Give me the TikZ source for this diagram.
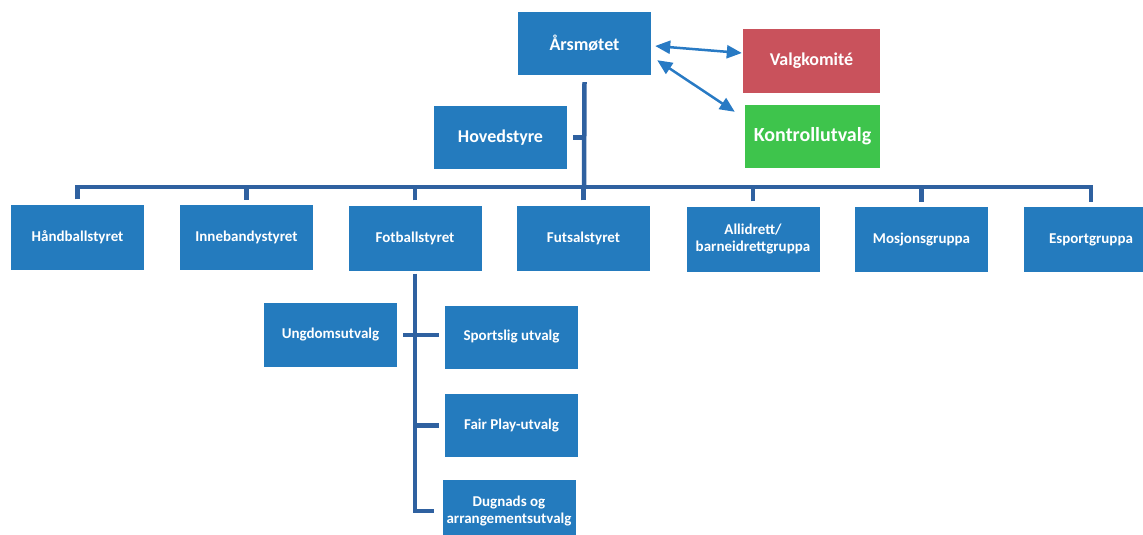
\documentclass[tikz,border=0pt]{standalone}
\usepackage{fontspec}
\setmainfont{Carlito}
\usetikzlibrary{arrows.meta}
\definecolor{boxblue}{RGB}{36,123,190}
\definecolor{barblue}{RGB}{47,97,160}
\definecolor{tipblue}{RGB}{40,122,196}
\definecolor{valgred}{RGB}{201,82,92}
\definecolor{kontrollgreen}{RGB}{62,196,76}

\begin{document}
\begin{tikzpicture}[x=1pt,y=-1pt,
    box/.style={fill=boxblue,text=white,font=\bfseries\fontsize{15}{17}\selectfont,
        minimum width=133pt,minimum height=65pt,inner sep=0pt,align=center},
    bigbox/.style={box,minimum height=63pt,font=\bfseries\fontsize{18}{21}\selectfont},
    bar/.style={draw=barblue,line width=4.5pt},
    twoway/.style={draw=tipblue,line width=2.5pt,
        {Triangle[length=15pt,width=13pt]}-{Triangle[length=15pt,width=13pt]}}]
        \useasboundingbox (0,0) rectangle (1143,535);
        % top
        \node[bigbox] (aars) at (584.5,43.5) {Årsmøtet};
        \node[bigbox,fill=valgred,minimum width=137pt,minimum height=64pt] (valg) at (811.5,61) {Valgkomité};
        \node[bigbox,fill=kontrollgreen,minimum width=135pt,font=\bfseries\fontsize{20}{24}\selectfont] (kontroll) at (812.5,136.5) {Kontrollutvalg};
        \node[bigbox] (hoved) at (500.5,137.5) {Hovedstyre};
        % row
        \node[box] (hand) at (77.5,237) {Håndballstyret};
        \node[box] (inne) at (246.5,237.5) {Innebandystyret};
        \node[box] (fot) at (415,238) {Fotballstyret};
        \node[box] (futsal) at (583.5,238) {Futsalstyret};
        \node[box] (alli) at (753,239) {Allidrett/\\barneidrettgruppa};
        \node[box] (mosjon) at (921.5,239.5) {Mosjonsgruppa};
        \node[box,minimum width=134pt] (esport) at (1091,239.5) {Esportgruppa};
        % fotball
        \node[box,minimum height=64pt] (ungdom) at (330.5,335) {Ungdomsutvalg};
        \node[box,minimum height=63pt] (sport) at (511.5,337) {Sportslig utvalg};
        \node[box,minimum height=63pt] (fair) at (511.5,425.5) {Fair Play-utvalg};
        \node[box,minimum height=63pt] (dugnad) at (509,511) {Dugnads og\\arrangementsutvalg};
        % lines
        \coordinate (bus) at (584,187);
        \draw[bar] ([yshift=-7pt]aars.south) -- (bus);
        \draw[bar] ([xshift=6pt]hoved.east) -- (hoved.east -| bus);
        \foreach \b in {hand,inne,fot,futsal,alli,mosjon,esport}
            \draw[bar] ([yshift=5pt]\b.north) |- (bus);
        \draw[bar] ([yshift=-3pt]fot.south) |- ([xshift=-8pt]dugnad.west);
        \draw[bar] ([xshift=6pt]ungdom.east) -- ([xshift=-6pt]sport.west |- ungdom.east);
        \draw[bar] ([xshift=-6pt]fair.west) -- (fair.west -| fot.south);
        % arrows
        \draw[twoway] ([shift={(4pt,-2.5pt)}]aars.east) -- ([shift={(-1pt,8pt)}]valg.west);
        \draw[twoway] ([shift={(6pt,15pt)}]aars.south east) -- ([shift={(-10pt,-7pt)}]kontroll.north west);
\end{tikzpicture}
\end{document}
